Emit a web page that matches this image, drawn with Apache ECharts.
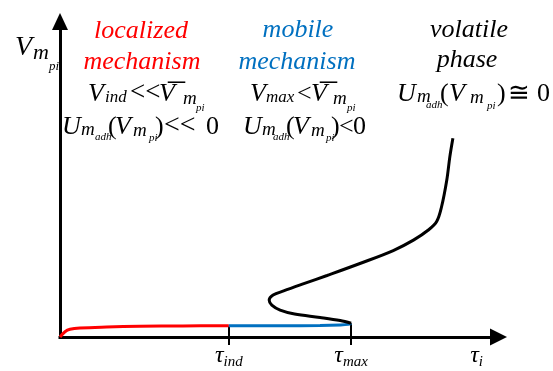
<!DOCTYPE html>
<html><head><meta charset="utf-8">
<script src="https://cdn.jsdelivr.net/npm/echarts@6/dist/echarts.min.js"></script>
<style>html,body{margin:0;padding:0;background:#fff}#c{width:553px;height:371px}</style>
</head><body><div id="c"></div>
<script>
// ---- data (axis units: 0..100 on both axes) ----
const tauInd = 38.5;          // τ_ind
const tauMax = 66.4;          // τ_max
const tauI = 95;              // position of the τ_i axis label
const tickSubscripts = { ind: 'ind', max: 'max', i: 'i' };
const localizedCurve = [[0,0],[1.14,1.68],[2.28,2.44],[4.56,2.85],[10.65,3.16],[18.24,3.39],[28,3.5],[38.5,3.58]];
const mobileCurve = [[38.5,3.58],[50.2,3.55],[59.3,3.62],[63.9,3.8],[65.7,4.0],[66.4,4.34]];
const volatileCurve = [[66.4,4.34],[63.9,5.2],[59.3,6.2],[53.5,7.3],[50.2,8.54],[48.3,10.1],[47.7,11.7],[48.6,13.3],[51.0,14.6],[55.6,16.9],[60.9,19.5],[68.4,23.3],[76.0,27.4],[80.6,30.7],[84.0,33.9],[85.9,36.6],[87.0,41.2],[88.2,49.7],[88.9,57.1],[89.6,63.0]];

// ---- text layout ----
const SERIF = "'Liberation Serif','Times New Roman',serif";
const K = 0.32;
const RED = '#ff0000', BLUE = '#0070c0';
function txt(s, x, base, fs, italic, color, align) {
  return { type: 'text', x: x, y: base - K * fs, silent: true, z: 100,
    style: { text: s, fontSize: fs, fontFamily: SERIF, fontStyle: italic ? 'italic' : 'normal',
      fill: color || '#000', align: align || 'left', verticalAlign: 'middle' } };
}
const words = [
  ['localized', 141, 39, RED], ['mechanism', 142, 70, RED],
  ['mobile', 298, 38, BLUE], ['mechanism', 297, 70, BLUE],
  ['volatile', 469, 38, '#000'], ['phase', 467, 68, '#000']
];
const tokens = [
  // y-axis name
  ['V',15,57,28,1],['m',33,60,22,1],['pi',49,71,13,1],
  // col 1 row 3
  ['V',88,102,26,1],['ind',105,103,17,1],['<<',130,102,27,0],['V',159,102,26,1],['¯',168,109,34,0],['m',183,105,19,1],['pi',196,112,11,1],
  // col 1 row 4
  ['U',62,135,26,1],['m',81,136,19,1],['adh',95,141,11,1],['(',108,135,26,0],['V',115,135,26,1],['m',133,137,19,1],['pi',149,142,11,1],[')',155,135,26,0],['<<',164,135,28,0],['0',206,135,26,0],
  // col 2 row 3
  ['V',250,102,26,1],['max',266,103,17,1],['<',297,102,26,0],['V',311,102,26,1],['¯',320,109,34,0],['m',333,105,19,1],['pi',347,112,11,1],
  // col 2 row 4
  ['U',243,135,26,1],['m',262,136,19,1],['adh',273,141,11,1],['(',286,135,26,0],['V',293,135,26,1],['m',311,137,19,1],['pi',326,142,11,1],[')',331,135,26,0],['<',339,135,26,0],['0',353,135,26,0],
  // col 3 row 3
  ['U',397,102,26,1],['m',417,103,19,1],['adh',426,109,11,1],['(',440,102,26,0],['V',449,102,26,1],['m',470,104,19,1],['pi',487,110,11,1],[')',497,102,26,0],['≅',508,102,26,0],['0',537,102,26,0]
];
const graphics = [];
words.forEach(w => graphics.push(txt(w[0], w[1], w[2], 26, true, w[3], 'center')));
tokens.forEach(t => graphics.push(txt(t[0], t[1], t[2], t[3], t[4] === 1)));

const chart = echarts.init(document.getElementById('c'), null, { renderer: 'canvas' });
chart.setOption({
  animation: false,
  backgroundColor: '#fff',
  grid: { left: 60, right: 54.5, top: 21.5, bottom: 34, containLabel: false },
  xAxis: {
    type: 'value', min: 0, max: 100,
    splitLine: { show: false },
    axisLine: { show: true, onZero: true, symbol: ['none', 'triangle'], symbolSize: [17, 17],
      lineStyle: { color: '#000', width: 3, cap: 'square' } },
    axisTick: { show: true, customValues: [tauInd, tauMax], length: 8, inside: false,
      lineStyle: { color: '#000', width: 2 } },
    axisLabel: {
      show: true, customValues: [tauInd, tauMax, tauI], margin: 7,
      formatter: function (v) {
        const key = Math.abs(v - tauInd) < 0.01 ? 'ind' : (Math.abs(v - tauMax) < 0.01 ? 'max' : 'i');
        return '{t|τ}{s|' + tickSubscripts[key] + '}';
      },
      rich: {
        t: { fontSize: 24, fontFamily: SERIF, fontStyle: 'italic', color: '#000', verticalAlign: 'top' },
        s: { fontSize: 15, fontFamily: SERIF, fontStyle: 'italic', color: '#000', verticalAlign: 'top', padding: [11, 0, 0, 0] }
      }
    }
  },
  yAxis: {
    type: 'value', min: 0, max: 100,
    splitLine: { show: false },
    axisTick: { show: false }, axisLabel: { show: false },
    axisLine: { show: true, symbol: ['none', 'triangle'], symbolSize: [16, 17],
      lineStyle: { color: '#000', width: 3, cap: 'square' } }
  },
  series: [
    { type: 'line', name: 'localized', data: localizedCurve, showSymbol: false, symbol: 'none', smooth: 0.35,
      lineStyle: { color: RED, width: 3 }, z: 5,
      markLine: { silent: true, symbol: ['none', 'none'], label: { show: false },
        lineStyle: { color: '#000', width: 2, type: 'solid' },
        data: [[{ coord: [tauInd, 0] }, { coord: [tauInd, localizedCurve[localizedCurve.length - 1][1]] }]] } },
    { type: 'line', name: 'mobile', data: mobileCurve, showSymbol: false, symbol: 'none', smooth: 0.35,
      lineStyle: { color: BLUE, width: 3 }, z: 5,
      markLine: { silent: true, symbol: ['none', 'none'], label: { show: false },
        lineStyle: { color: '#000', width: 2, type: 'solid' },
        data: [[{ coord: [tauMax, 0] }, { coord: [tauMax, mobileCurve[mobileCurve.length - 1][1]] }]] } },
    { type: 'line', name: 'volatile', data: volatileCurve, showSymbol: false, symbol: 'none', smooth: 0.35,
      lineStyle: { color: '#000', width: 3 }, z: 6 }
  ],
  graphic: graphics
});
</script></body></html>
